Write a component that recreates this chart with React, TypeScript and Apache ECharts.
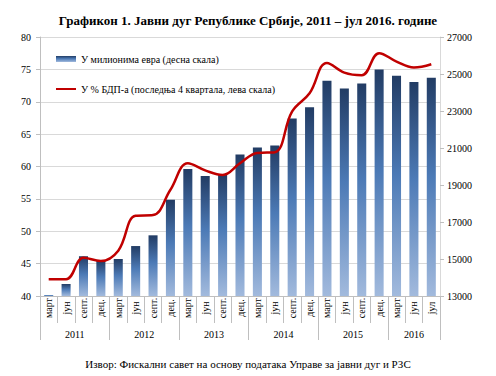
import React, { useEffect, useRef } from "react";
import * as echarts from "echarts";

const categories = [
  "март", "јун", "септ.", "дец.",
  "март", "јун", "септ.", "дец.",
  "март", "јун", "септ.", "дец.",
  "март", "јун", "септ.", "дец.",
  "март", "јун", "септ.", "дец.",
  "март", "јун", "јул",
];
const years = ["2011", "2012", "2013", "2014", "2015", "2016"];
const yearCounts = [4, 4, 4, 4, 4, 3];

// Јавни дуг у милионима евра (десна скала)
const debtMillionEur = [
  13050, 13650, 15150, 14900,
  15000, 15700, 16280, 18200,
  19870, 19490, 19560, 20650,
  21030, 21130, 22600, 23200,
  24630, 24210, 24480, 25250,
  24910, 24570, 24800,
];
// Јавни дуг у % БДП-а (лева скала)
const debtPctGdp = [
  42.6, 42.6, 45.9, 45.4,
  47.0, 52.4, 52.5, 56.4,
  60.5, 59.4, 58.7, 60.5,
  62.1, 62.2, 68.5, 71.3,
  76.0, 74.5, 74.1, 77.5,
  76.2, 75.3, 75.8,
];

const leftTicks = { min: 40, max: 80, interval: 5 };
const rightTicks = { min: 13000, max: 27000, interval: 2000 };

const titleText = "Графикон 1. Јавни дуг Републике Србије, 2011 – јул 2016. године";
const sourceText = "Извор: Фискални савет на основу података Управе за јавни дуг и РЗС";
const barName = "У милионима евра (десна скала)";
const lineName = "У % БДП-а (последња 4 квартала, лева скала)";

const FONT = "'Liberation Serif', 'Times New Roman', serif";

export default function App() {
  const ref = useRef<HTMLDivElement>(null);
  useEffect(() => {
    if (!ref.current) return;
    const chart = echarts.init(ref.current, null, { renderer: "svg" });

    const boundaries: number[] = [0];
    const centers: number[] = [];
    yearCounts.forEach((c) => {
      const start = boundaries[boundaries.length - 1];
      centers.push(start + c / 2);
      boundaries.push(start + c);
    });

    const barGradient = new echarts.graphic.LinearGradient(0, 0, 0, 1, [
      { offset: 0, color: "#223c64" },
      { offset: 0.45, color: "#4c7ab6" },
      { offset: 1, color: "#a2badd" },
    ]);

    chart.setOption({
      animation: false,
      textStyle: { fontFamily: FONT, color: "#000" },
      title: [
        {
          text: titleText,
          left: "center",
          top: 9,
          textStyle: { fontFamily: FONT, fontWeight: "bold", fontSize: 13, color: "#000" },
        },
        {
          text: sourceText,
          left: "center",
          top: 353,
          textStyle: { fontFamily: FONT, fontWeight: "normal", fontSize: 11, color: "#000" },
        },
      ],
      legend: {
        orient: "vertical",
        left: 50,
        top: 49,
        itemGap: 20,
        itemWidth: 20,
        itemHeight: 6,
        textStyle: { fontFamily: FONT, fontSize: 10, color: "#000" },
        data: [
          { name: barName, icon: "rect" },
          { name: lineName, itemStyle: { opacity: 0 } },
        ],
      },
      grid: { left: 40, right: 56, top: 37, bottom: 80, containLabel: false },
      xAxis: [
        {
          type: "category",
          data: categories,
          position: "bottom",
          axisLine: { show: true, lineStyle: { color: "#bfbfbf", width: 1 } },
          axisTick: {
            show: true,
            interval: 0,
            alignWithLabel: false,
            length: 27,
            lineStyle: { color: "#bfbfbf" },
          },
          axisLabel: {
            interval: 0,
            rotate: 90,
            align: "center",
            verticalAlign: "middle",
            margin: 12,
            fontFamily: FONT,
            fontSize: 10,
            color: "#000",
          },
          splitLine: { show: false },
        },
        {
          type: "value",
          min: 0,
          max: categories.length,
          position: "bottom",
          axisLine: { show: false },
          axisTick: {
            show: true,
            customValues: boundaries,
            length: 44,
            lineStyle: { color: "#bfbfbf" },
          },
          axisLabel: {
            show: true,
            customValues: centers,
            margin: 33,
            fontFamily: FONT,
            fontSize: 10,
            color: "#000",
            formatter: (v: number) => {
              const idx = centers.findIndex((c) => Math.abs(c - v) < 1e-6);
              return idx >= 0 ? years[idx] : "";
            },
          },
          splitLine: { show: false },
        },
      ],
      yAxis: [
        {
          type: "value",
          position: "left",
          min: leftTicks.min,
          max: leftTicks.max,
          interval: leftTicks.interval,
          axisLine: { show: true, lineStyle: { color: "#bfbfbf" } },
          axisTick: { show: true, length: 4, lineStyle: { color: "#bfbfbf" } },
          axisLabel: { margin: 9, fontFamily: FONT, fontSize: 10, color: "#000" },
          splitLine: { show: true, lineStyle: { color: "#d9d9d9", width: 1 } },
        },
        {
          type: "value",
          position: "right",
          min: rightTicks.min,
          max: rightTicks.max,
          interval: rightTicks.interval,
          axisLine: { show: true, lineStyle: { color: "#d9d9d9" } },
          axisTick: { show: true, length: 4, lineStyle: { color: "#bfbfbf" } },
          axisLabel: {
            margin: 7,
            fontFamily: FONT,
            fontSize: 10,
            color: "#000",
            formatter: (v: number) => String(v),
          },
          splitLine: { show: false },
        },
      ],
      series: [
        {
          name: barName,
          type: "bar",
          xAxisIndex: 0,
          yAxisIndex: 1,
          data: debtMillionEur,
          barWidth: "52%",
          itemStyle: { color: barGradient },
          z: 2,
        },
        {
          name: lineName,
          type: "line",
          xAxisIndex: 0,
          yAxisIndex: 0,
          data: debtPctGdp,
          smooth: 0.4,
          symbol: "none",
          lineStyle: { color: "#c00000", width: 2.5 },
          itemStyle: { color: "#c00000" },
          z: 3,
        },
      ],
    });
    return () => chart.dispose();
  }, []);
  return (
    <div
      ref={ref}
      style={{ position: "fixed", left: 0, top: 0, width: 496, height: 376, background: "#fff" }}
    />
  );
}
